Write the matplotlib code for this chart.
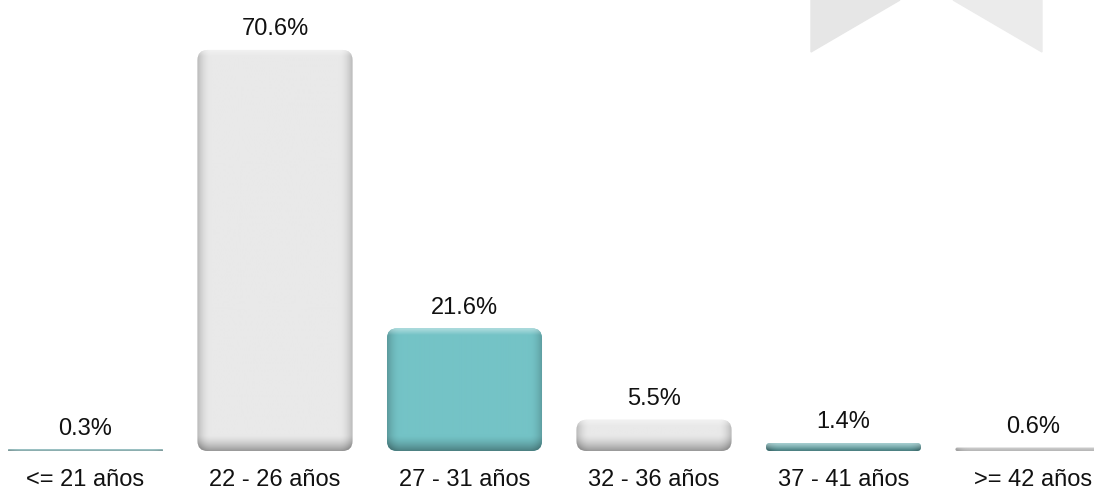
import numpy as np
import matplotlib
matplotlib.use("Agg")
import matplotlib.pyplot as plt
from matplotlib.patches import FancyBboxPatch, Polygon

# data
categories = ["<= 21 años", "22 - 26 años", "27 - 31 años", "32 - 36 años", "37 - 41 años", ">= 42 años"]
values = [0.3, 70.6, 21.6, 5.5, 1.4, 0.6]
labels = ["0.3%", "70.6%", "21.6%", "5.5%", "1.4%", "0.6%"]
colors = ["#74c3c6", "#e9e9e9", "#74c3c6", "#e9e9e9", "#74c3c6", "#e9e9e9"]

plt.rcParams["font.family"] = ["Liberation Sans", "DejaVu Sans"]

W, H = 1094, 490
fig = plt.figure(figsize=(W / 100, H / 100), dpi=100)
ax = fig.add_axes([0, 0, 1, 1])
ax.set_axis_off()

px_x = 189.5           # pixels per category
px_y = 5.68            # pixels per percent
x0_px, base_px = 85.5, 39
ax.set_xlim(-x0_px / px_x, (W - x0_px) / px_x)
ax.set_ylim(-base_px / px_y, (H - base_px) / px_y)

# watermark in the top right corner
def fpt(x, y):
    return (x / W, 1 - y / H)

fig.patches.append(Polygon([fpt(811, 0), fpt(811, 52), fpt(900, 0)], closed=True,
                           transform=fig.transFigure, color="#e6e6e6", zorder=0))
fig.patches.append(Polygon([fpt(953, 0), fpt(1042, 52), fpt(1042, 0)], closed=True,
                           transform=fig.transFigure, color="#ebebeb", zorder=0))

bw = 0.818
aspect = px_x / px_y
r = 10 / px_x


def shade_img(col, wpx, hpx):
    base = np.array(matplotlib.colors.to_rgb(col))
    hpx = max(int(round(hpx)), 2)
    wpx = int(round(wpx))
    xs = np.arange(wpx) + 0.5
    ys = np.arange(hpx) + 0.5
    dx = np.minimum(xs, wpx - xs)
    fx = np.clip(1 - dx / 14, 0, 1) ** 2
    dyb = hpx - ys
    fb = np.clip(1 - dyb / 16, 0, 1) ** 1.5
    ft = np.clip(1 - ys / 7, 0, 1)
    shade = 1 - 0.22 * fx[None, :] - 0.35 * fb[:, None]
    img = base[None, None, :] * shade[:, :, None]
    img = img + (1 - img) * 0.45 * ft[:, None, None]
    return np.clip(img, 0, 1)


for i, (v, c) in enumerate(zip(values, colors)):
    left = i - bw / 2
    dr = min(r, v / (2 * aspect))
    patch = FancyBboxPatch((left, 0), bw, v,
                           boxstyle=f"round,pad=0,rounding_size={dr}",
                           mutation_aspect=aspect, facecolor=c, edgecolor="none",
                           zorder=2)
    ax.add_patch(patch)
    img = shade_img(c, bw * px_x, v * px_y)
    im = ax.imshow(img, extent=(left, left + bw, 0, v), aspect="auto",
                   interpolation="bilinear", zorder=3)
    im.set_clip_path(patch)
    ax.annotate(labels[i], (i, v), xytext=(0, 10.5), textcoords="offset points",
                ha="center", va="baseline", fontsize=17, color="#111111")
    ax.annotate(categories[i], (i, 0), xytext=(0, -25), textcoords="offset points",
                ha="center", va="baseline", fontsize=17, color="#111111")

fig.savefig("out.png", dpi=100, facecolor="white")
